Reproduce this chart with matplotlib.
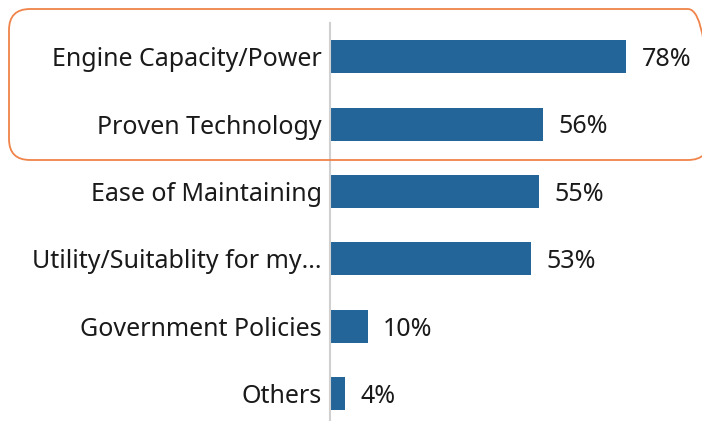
import matplotlib
matplotlib.use("Agg")
import matplotlib.pyplot as plt
from matplotlib.patches import FancyBboxPatch

categories = ["Engine Capacity/Power", "Proven Technology", "Ease of Maintaining",
              "Utility/Suitablity for my...", "Government Policies", "Others"]
values = [78, 56, 55, 53, 10, 4]
value_labels = ["78%", "56%", "55%", "53%", "10%", "4%"]

plt.rcParams["font.family"] = ["Noto Sans", "DejaVu Sans"]

fig = plt.figure(figsize=(7.02, 4.21), dpi=100)
fig.patch.set_facecolor("white")
ax = fig.add_axes([330 / 702, 0, 1 - 330 / 702, 1 - 23 / 421])

y = list(range(len(categories)))
ax.barh(y, values, height=0.49, color="#236599")
for yi, v, lab in zip(y, values, value_labels):
    ax.annotate(lab, (v, yi), xytext=(11, -2), textcoords="offset points",
                va="center", ha="left", fontsize=18, color="#1a1a1a")

ax.set_xlim(0, 372 / 3.8)
ax.set_ylim(5.405, -0.5)
ax.set_yticks(y)
ax.set_yticklabels(categories, fontsize=18, color="#1a1a1a")
ax.tick_params(axis="y", length=0, pad=6)
ax.set_xticks([])
for s in ["top", "right", "bottom"]:
    ax.spines[s].set_visible(False)
ax.spines["left"].set_color("#d0d0d0")
ax.spines["left"].set_linewidth(1.5)

# highlight box around the top two rows
box = FancyBboxPatch((9 / 702, 1 - 160 / 421), 700 / 702, 151 / 421,
                     boxstyle="round,pad=0,rounding_size=0.03",
                     transform=fig.transFigure, fill=False,
                     edgecolor="#f0844a", linewidth=1.3, clip_on=False,
                     mutation_aspect=702 / 421)
fig.patches.append(box)

fig.savefig("out.png", dpi=100, facecolor="white")
